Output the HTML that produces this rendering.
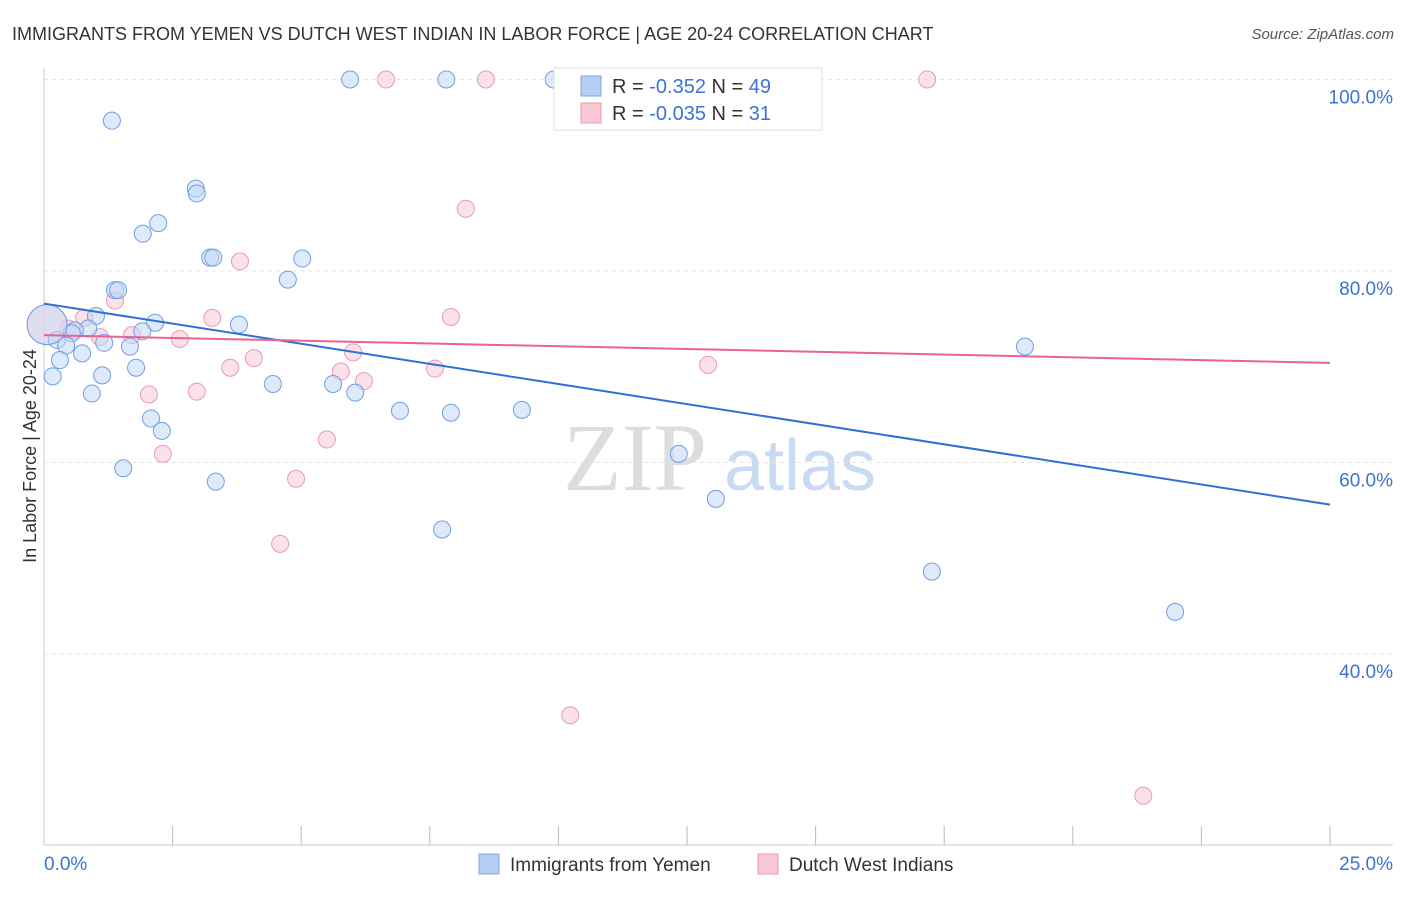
<!DOCTYPE html>
<html><head><meta charset="utf-8"><style>
body{margin:0;background:#fff;font-family:"Liberation Sans",sans-serif}
</style></head><body>
<svg id="c" width="1406" height="892" xmlns="http://www.w3.org/2000/svg" font-family="Liberation Sans, sans-serif">
<text x="12" y="40" font-size="18" fill="#333">IMMIGRANTS FROM YEMEN VS DUTCH WEST INDIAN IN LABOR FORCE | AGE 20-24 CORRELATION CHART</text>
<text x="1394" y="39" font-size="15" fill="#555" font-style="italic" text-anchor="end">Source: ZipAtlas.com</text>
<text x="36" y="456" font-size="18" fill="#333" text-anchor="middle" transform="rotate(-90 36 456)">In Labor Force | Age 20-24</text>
<g><text x="635" y="490" font-size="96" fill="#ddd" font-family="Liberation Serif, serif" text-anchor="middle">ZIP</text><text x="800" y="490" font-size="72" fill="#c8dbf2" text-anchor="middle">atlas</text></g>
<g id="grid"></g><g id="marks"></g>
<g>
<rect x="554" y="68" width="268" height="62" fill="#fff" stroke="#ddd"/>
<rect x="581" y="76" width="20" height="20" fill="#b5cff3" stroke="#7aa6e6"/>
<rect x="581" y="103" width="20" height="20" fill="#f8c8d6" stroke="#ec9ab3"/>
<text x="612" y="93" font-size="20" fill="#333">R = <tspan fill="#3b73d3">-0.352</tspan>   N = <tspan fill="#3b73d3">49</tspan></text>
<text x="612" y="120" font-size="20" fill="#333">R = <tspan fill="#3b73d3">-0.035</tspan>   N =  <tspan fill="#3b73d3">31</tspan></text>
</g>
<g>
<rect x="479" y="854" width="20" height="20" fill="#b5cff3" stroke="#7aa6e6"/>
<text x="510" y="871" font-size="19" fill="#333">Immigrants from Yemen</text>
<rect x="758" y="854" width="20" height="20" fill="#f8c8d6" stroke="#ec9ab3"/>
<text x="789" y="871" font-size="19" fill="#333">Dutch West Indians</text>
</g>
</svg>
<script>
const yTicks=[40,60,80,100];
const xTicks=[0,2.5,5,7.5,10,12.5,15,17.5,20,22.5,25];
const blueX=[5.95,7.82,9.91,1.32,2.95,2.97,2.22,1.92,3.23,3.29,5.02,4.74,1.38,1.44,1.01,3.79,2.16,1.91,0.86,0.60,0.54,0.25,0.43,1.17,1.67,0.74,0.31,1.79,1.13,0.17,4.45,5.62,6.05,0.93,6.92,7.91,9.29,2.08,2.29,12.34,1.54,3.34,13.06,7.74,19.07,17.26,21.99,0.06];
const blueY=[100,100,100,95.7,88.6,88.1,85.0,83.9,81.4,81.4,81.3,79.1,78.0,78.0,75.3,74.4,74.6,73.7,74.0,73.8,73.5,72.8,72.2,72.5,72.1,71.4,70.7,69.9,69.1,69.0,68.2,68.2,67.3,67.2,65.4,65.2,65.5,64.6,63.3,60.9,59.4,58.0,56.2,53.0,72.1,48.6,44.4,74.4];
const pinkX=[6.65,8.59,17.17,8.20,3.81,1.38,3.27,7.91,0.78,0.47,1.71,1.09,2.64,6.01,4.08,3.62,7.60,12.91,5.77,6.22,2.04,2.97,5.50,2.31,4.90,4.59,10.23,21.37,0.06];
const pinkY=[100,100,100,86.5,81.0,76.9,75.1,75.2,75.1,74.0,73.3,73.1,72.9,71.5,70.9,69.9,69.8,70.2,69.5,68.5,67.1,67.4,62.4,60.9,58.3,51.5,33.6,25.2,74.4];
const blueTrend=[76.6,55.6];
const pinkTrend=[73.3,70.4];
const X=v=>44+v/25*1286, Y=v=>79.5+(100-v)/20*191.5;
const NS="http://www.w3.org/2000/svg";
const g=document.getElementById('grid'), m=document.getElementById('marks');
function mk(p,t,a){const e=document.createElementNS(NS,t);for(const k in a)e.setAttribute(k,a[k]);p.appendChild(e);return e;}
let ax=mk(g,'line',{x1:44,y1:68,x2:44,y2:845,stroke:'#ccc'});


let bx=mk(g,'line',{x1:44,y1:845,x2:1393,y2:845,stroke:'#ccc'});


yTicks.forEach(v=>{
 const l=mk(g,'line',{x1:44,x2:1393,y1:Y(v),y2:Y(v),stroke:'#e4e4e4','stroke-dasharray':'4,4'});
 
 
 const t=mk(g,'text',{x:1393,y:Y(v)+24,'font-size':19,fill:'#3b73d3','text-anchor':'end'});t.textContent=v.toFixed(1)+'%';
 
 
});
xTicks.forEach((v,i)=>{
 if(i==0)return;
 const l=mk(g,'line',{x1:X(v),x2:X(v),y1:826,y2:845,stroke:'#bbb'});
 
 
});
[[0,'0.0%','start',44],[25,'25.0%','end',1393]].forEach(a=>{
 const t=mk(g,'text',{x:a[3],y:870,'font-size':19,fill:'#3b73d3','text-anchor':a[2]});t.textContent=a[1];
 
 
});
function pts(xs,ys,f,s,n){xs.forEach((x,i)=>{
 const big=(x<0.1);
 const c=mk(m,'circle',{cx:X(x),cy:Y(ys[i]),r:big?20:8.5,fill:f,'fill-opacity':big?0.5:0.55,stroke:s,'stroke-width':1});
 
 
});}
pts(pinkX,pinkY,'#f8c8d6','#ec9ab3','dutch-west-indian-point');
pts(blueX,blueY,'#c3d8f5','#6f9fe3','yemen-point');
let tb=mk(m,'line',{x1:X(0),y1:Y(blueTrend[0]),x2:X(25),y2:Y(blueTrend[1]),stroke:'#2f6fd8','stroke-width':2});


let tp=mk(m,'line',{x1:X(0),y1:Y(pinkTrend[0]),x2:X(25),y2:Y(pinkTrend[1]),stroke:'#e8638f','stroke-width':2});


</script>
</body></html>
